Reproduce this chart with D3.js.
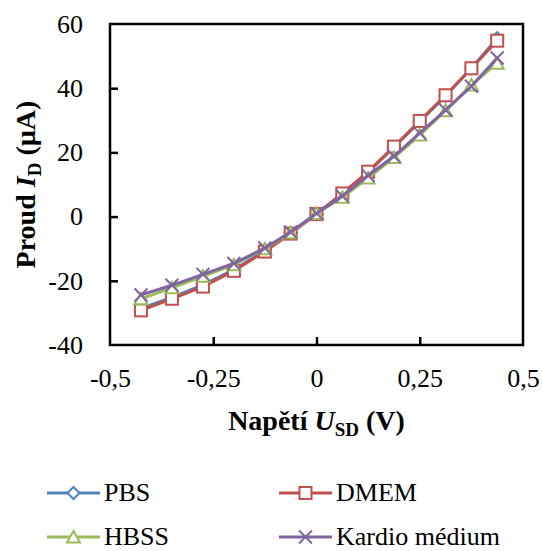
<!DOCTYPE html>
<html>
<head>
<meta charset="utf-8">
<script src="https://cdn.jsdelivr.net/npm/d3@7"></script>
<style>
  body { margin: 0; background: #fff; }
</style>
</head>
<body>
<div class="container"></div>
<script>
const voltage = [-0.425, -0.35, -0.275, -0.2, -0.125, -0.0625, 0, 0.0625, 0.125, 0.1875, 0.25, 0.3125, 0.375, 0.4375]
const pbs = [-28.6, -25.2, -21.3, -16.5, -10.6, -5.0, 0.8, 7.0, 13.8, 21.6, 29.6, 37.6, 46.2, 55.6]
const dmem = [-29.2, -25.6, -21.8, -16.9, -10.9, -5.3, 0.8, 7.2, 14.0, 21.8, 29.8, 37.8, 46.2, 54.8]
const hbss = [-25.6, -22.2, -18.6, -15.0, -10.0, -5.0, 1.0, 6.0, 12.0, 18.4, 25.4, 33.0, 41.0, 47.8]
const kardio = [-24.4, -21.4, -18.0, -14.6, -9.8, -4.8, 1.0, 6.4, 12.8, 18.8, 26.0, 33.2, 40.6, 49.4]
const seriesNames = ["PBS", "DMEM", "HBSS", "Kardio médium"]
const xTicks = [-0.5, -0.25, 0, 0.25, 0.5]
const yTicks = [-40, -20, 0, 20, 40, 60]

const width = 543
const height = 551
const margin = { top: 24, bottom: 206, left: 110, right: 20 }
const serif = "'Liberation Serif', 'Times New Roman', serif"

const series = [
    { name: seriesNames[0], values: pbs, color: "#4F81BD", marker: "diamond" },
    { name: seriesNames[1], values: dmem, color: "#C0504D", marker: "square" },
    { name: seriesNames[2], values: hbss, color: "#9BBB59", marker: "triangle" },
    { name: seriesNames[3], values: kardio, color: "#8064A2", marker: "cross" }
]

let svg = d3.select(".container")
    .append("svg")
    .attr("width", width)
    .attr("height", height)
    .style("font-family", serif)

let x = d3.scaleLinear()
    .domain([-0.5, 0.5])
    .range([margin.left, width - margin.right])

let y = d3.scaleLinear()
    .domain([-40, 60])
    .range([height - margin.bottom, margin.top])

let fmt = d => String(d).replace(".", ",")

// axes, ticks point inward
let xAxis = svg.append("g")
    .attr("transform", `translate(0, ${y(-40)})`)
    .call(d3.axisBottom(x).tickValues(xTicks).tickFormat(fmt).tickSizeInner(-8).tickSizeOuter(0).tickPadding(24))
let yAxis = svg.append("g")
    .attr("transform", `translate(${x(-0.5)}, 0)`)
    .call(d3.axisLeft(y).tickValues(yTicks).tickFormat(fmt).tickSizeInner(-8).tickSizeOuter(0).tickPadding(27))

for (let g of [xAxis, yAxis]) {
    g.attr("font-family", null)
    g.select(".domain").remove()
    g.selectAll(".tick line").attr("stroke", "#000").attr("stroke-width", 2.5)
    g.selectAll(".tick text").attr("font-size", 26).attr("fill", "#000")
        .style("font-family", serif)
}
// skip the ticks on the frame corners
xAxis.selectAll(".tick line").filter(d => d === -0.5 || d === 0.5).remove()
yAxis.selectAll(".tick line").filter(d => d === -40 || d === 60).remove()

svg.append("rect")
    .attr("x", x(-0.5))
    .attr("y", y(60))
    .attr("width", x(0.5) - x(-0.5))
    .attr("height", y(-40) - y(60))
    .attr("fill", "none")
    .attr("stroke", "#000")
    .attr("stroke-width", 2.5)

function drawMarker(g, type, color, cx, cy) {
    if (type === "diamond") {
        g.append("path").attr("d", `M${cx},${cy - 6}L${cx + 6},${cy}L${cx},${cy + 6}L${cx - 6},${cy}Z`)
            .attr("fill", "#fff").attr("stroke", color).attr("stroke-width", 2)
    } else if (type === "square") {
        g.append("rect").attr("x", cx - 6).attr("y", cy - 6).attr("width", 12).attr("height", 12)
            .attr("fill", "#fff").attr("stroke", color).attr("stroke-width", 2)
    } else if (type === "triangle") {
        g.append("path").attr("d", `M${cx},${cy - 6}L${cx + 6.5},${cy + 5.5}L${cx - 6.5},${cy + 5.5}Z`)
            .attr("fill", "#fff").attr("stroke", color).attr("stroke-width", 2)
    } else {
        g.append("path").attr("d", `M${cx - 6.5},${cy - 6.5}L${cx + 6.5},${cy + 6.5}M${cx - 6.5},${cy + 6.5}L${cx + 6.5},${cy - 6.5}`)
            .attr("stroke", color).attr("stroke-width", 2)
    }
}

let line = d3.line().x((d, i) => x(voltage[i])).y(d => y(d))

series.forEach(s => {
    let g = svg.append("g")
    g.append("path")
        .attr("d", line(s.values))
        .attr("fill", "none")
        .attr("stroke", s.color)
        .attr("stroke-width", 3)
    s.values.forEach((v, i) => drawMarker(g, s.marker, s.color, x(voltage[i]), y(v)))
})

// axis titles
let xTitle = svg.append("text")
    .attr("x", (x(-0.5) + x(0.5)) / 2)
    .attr("y", 430)
    .attr("text-anchor", "middle")
    .attr("font-size", 28)
    .attr("font-weight", "bold")
xTitle.append("tspan").text("Napětí ")
xTitle.append("tspan").attr("font-style", "italic").text("U")
xTitle.append("tspan").attr("font-size", 19).attr("dy", 6).text("SD")
xTitle.append("tspan").attr("dy", -6).text(" (V)")

let yTitle = svg.append("text")
    .attr("transform", `translate(35, ${(y(60) + y(-40)) / 2}) rotate(-90)`)
    .attr("text-anchor", "middle")
    .attr("font-size", 28)
    .attr("font-weight", "bold")
yTitle.append("tspan").text("Proud ")
yTitle.append("tspan").attr("font-style", "italic").text("I")
yTitle.append("tspan").attr("font-size", 19).attr("dy", 6).text("D")
yTitle.append("tspan").attr("dy", -6).text(" (µA)")

// legend
let legendPos = [[47, 493], [279, 493], [47, 537], [279, 537]]
series.forEach((s, i) => {
    let [lx, ly] = legendPos[i]
    let g = svg.append("g")
    g.append("line")
        .attr("x1", lx).attr("x2", lx + 53)
        .attr("y1", ly).attr("y2", ly)
        .attr("stroke", s.color).attr("stroke-width", 3)
    drawMarker(g, s.marker, s.color, lx + 26.5, ly)
    g.append("text")
        .attr("x", lx + 57)
        .attr("y", ly + 8)
        .attr("font-size", 26)
        .text(s.name)
})
</script>
</body>
</html>
